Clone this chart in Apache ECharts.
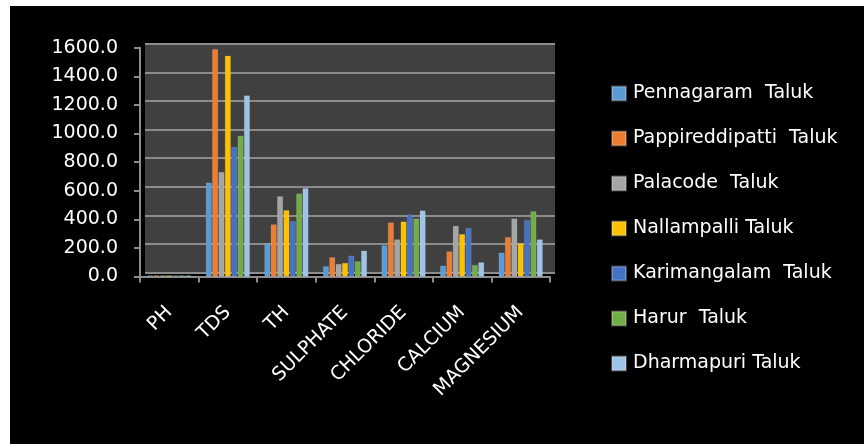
<!DOCTYPE html>
<html>
<head>
<meta charset="utf-8">
<title>Water quality by taluk</title>
<script src="https://cdn.jsdelivr.net/npm/echarts@6/dist/echarts.min.js"></script>
<style>
  html, body { margin: 0; padding: 0; background: #ffffff; }
  #main { position: absolute; left: 10px; top: 6px; width: 854px; height: 438px; }
</style>
</head>
<body>
<div id="main"></div>
<script>
// categories (parameters) and the series for each taluk
var categories = ['PH', 'TDS', 'TH', 'SULPHATE', 'CHLORIDE', 'CALCIUM', 'MAGNESIUM'];
var seriesNames = ['Pennagaram  Taluk', 'Pappireddipatti  Taluk', 'Palacode  Taluk', 'Nallampalli Taluk',
                   'Karimangalam  Taluk', 'Harur  Taluk', 'Dharmapuri Taluk'];
var pennagaram     = [7.6, 656, 231, 71, 217, 75, 166];
var pappireddipatti = [7.8, 1590, 364, 134, 377, 175, 275];
var palacode       = [7.5, 730, 561, 87, 259, 354, 405];
var nallampalli    = [7.7, 1543, 463, 94, 384, 296, 233];
var karimangalam   = [7.4, 905, 387, 145, 433, 338, 394];
var harur          = [7.9, 984, 580, 106, 405, 80, 456];
var dharmapuri     = [7.3, 1265, 617, 180, 461, 99, 259];
var yTicks = { min: 0, max: 1600, interval: 200 };

var colors = ['#5B9BD5', '#ED7D31', '#A5A5A5', '#FFC000', '#4472C4', '#70AD47', '#9DC3E6'];
var allData = [pennagaram, pappireddipatti, palacode, nallampalli, karimangalam, harur, dharmapuri];

var myChart = echarts.init(document.getElementById('main'));
var font = 'DejaVu Sans';

var series = seriesNames.map(function (name, i) {
    return {
        name: name,
        type: 'bar',
        xAxisIndex: 0,
        yAxisIndex: 0,
        barGap: '10%',
        barCategoryGap: '25%',
        itemStyle: { color: colors[i], borderColor: 'rgba(255,255,255,0.25)', borderWidth: 0.5 },
        data: allData[i]
    };
});

myChart.setOption({
    backgroundColor: '#000000',
    color: colors,
    animation: false,
    legend: {
        orient: 'vertical',
        left: 596,
        top: 73,
        itemWidth: 14,
        itemHeight: 14,
        itemGap: 26,
        icon: 'rect',
        textStyle: { color: '#ffffff', fontSize: 19, fontFamily: font, padding: [0, 0, 0, 2] },
        data: seriesNames
    },
    grid: [
        // front (bars, axes)
        { left: 130, top: 41.7, width: 410, height: 228.8, show: false },
        // back wall (shifted for the 3d look)
        { left: 135, top: 37.7, width: 410, height: 228.8, show: true,
          backgroundColor: '#404040', borderWidth: 0, z: 0 }
    ],
    xAxis: [
        {
            gridIndex: 0,
            type: 'category',
            data: categories,
            axisLine: { lineStyle: { color: '#8c8c8c', width: 2 } },
            axisTick: { show: true, length: 6, lineStyle: { color: '#8c8c8c', width: 2 } },
            axisLabel: { color: '#ffffff', fontSize: 19, fontFamily: font, rotate: 45, margin: 33, interval: 0 },
            splitLine: { show: false }
        },
        {
            gridIndex: 1,
            type: 'category',
            data: categories,
            axisLine: { show: false },
            axisTick: { show: false },
            axisLabel: { show: false }
        }
    ],
    yAxis: [
        {
            gridIndex: 0,
            type: 'value',
            min: yTicks.min,
            max: yTicks.max,
            interval: yTicks.interval,
            axisLine: { show: true, lineStyle: { color: '#8c8c8c', width: 2 } },
            axisTick: { show: true, length: 6, lineStyle: { color: '#8c8c8c', width: 2 } },
            axisLabel: {
                color: '#ffffff', fontSize: 19, fontFamily: font, margin: 22,
                formatter: function (v) { return v.toFixed(1); }
            },
            splitLine: { show: false }
        },
        {
            gridIndex: 1,
            type: 'value',
            min: yTicks.min,
            max: yTicks.max,
            interval: yTicks.interval,
            axisLine: { show: false },
            axisTick: { show: false },
            axisLabel: { show: false },
            splitLine: { show: true, lineStyle: { color: '#8c8c8c', width: 2 } }
        }
    ],
    series: series
});
</script>
</body>
</html>
